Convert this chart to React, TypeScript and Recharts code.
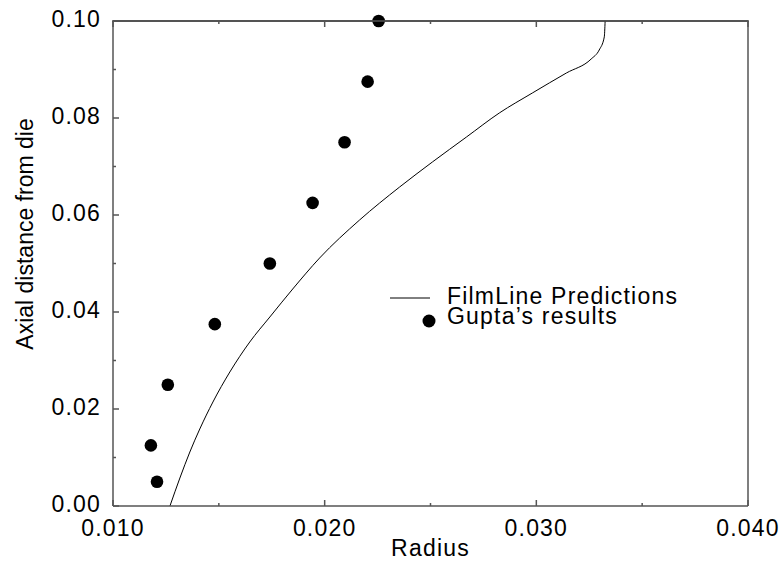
import React from "react";
import { ComposedChart, Line, Scatter, XAxis, YAxis, Legend } from "recharts";

// FilmLine prediction curve (radius, axial distance)
const curveRadius = [
  0.01269, 0.01316, 0.01363, 0.0141, 0.01472, 0.01552, 0.01646, 0.01741,
  0.01849, 0.01976, 0.02165, 0.02354, 0.02509, 0.0267, 0.02825, 0.02981,
  0.03142, 0.03259, 0.03297, 0.03321, 0.03325,
];
const curveAxial = [
  0.0, 0.00577, 0.01113, 0.01588, 0.02144, 0.02763, 0.03381, 0.03897, 0.04474,
  0.05113, 0.05897, 0.06577, 0.07093, 0.07608, 0.08103, 0.08515, 0.08928,
  0.09216, 0.09402, 0.0967, 0.1,
];

// Gupta's results
const guptaRadius = [
  0.01208, 0.01179, 0.01259, 0.01481, 0.01741, 0.01943, 0.02094, 0.02203,
  0.02255,
];
const guptaAxial = [0.005, 0.0125, 0.025, 0.0375, 0.05, 0.0625, 0.075, 0.0875, 0.1];

const xTicks = [0.01, 0.015, 0.02, 0.025, 0.03, 0.035, 0.04];
const yTicks = [0, 0.01, 0.02, 0.03, 0.04, 0.05, 0.06, 0.07, 0.08, 0.09, 0.1];
const X_DOMAIN = [0.01, 0.04];
const Y_DOMAIN = [0, 0.1];

const curve = curveRadius.map((x, i) => ({ x, y: curveAxial[i] }));
const gupta = guptaRadius.map((x, i) => ({ x, y: guptaAxial[i] }));
// top frame edge and its tick marks
const topEdge = X_DOMAIN.map((x) => ({ x, y: Y_DOMAIN[1] }));
const topTicks = xTicks.map((x) => ({ x, y: Y_DOMAIN[1] }));

const FONT = "'Liberation Sans', Arial, Helvetica, sans-serif";
const FS = 23;
const LS = 1.2;
const AXIS = "#555";

const isMajorX = (v: number) => Math.round(v * 1000) % 10 === 0;
const isMajorY = (v: number) => Math.round(v * 100) % 2 === 0;

const BottomTick = (props: any) => {
  const { x, y, payload } = props;
  const major = isMajorX(payload.value);
  return (
    <g>
      <line x1={x} y1={y} x2={x} y2={y - (major ? 6 : 3)} stroke={AXIS} strokeWidth={1.5} />
      {major && (
        <text x={x} y={y + 30} textAnchor="middle" fontSize={FS} fontFamily={FONT} letterSpacing={LS} fill="#000">
          {payload.value.toFixed(3)}
        </text>
      )}
    </g>
  );
};

const LeftTick = (props: any) => {
  const { x, y, payload } = props;
  const major = isMajorY(payload.value);
  return (
    <g>
      <line x1={x} y1={y} x2={x + (major ? 6 : 3)} y2={y} stroke={AXIS} strokeWidth={1.5} />
      {major && (
        <text x={x - 12} y={y + 6} textAnchor="end" fontSize={FS} fontFamily={FONT} letterSpacing={LS} fill="#000">
          {payload.value.toFixed(2)}
        </text>
      )}
    </g>
  );
};

const RightTick = (props: any) => {
  const { x, y, payload } = props;
  const major = isMajorY(payload.value);
  return <line x1={x} y1={y} x2={x - (major ? 6 : 3)} y2={y} stroke={AXIS} strokeWidth={1.5} />;
};

const TopTickShape = (p: any) => {
  const len = isMajorX(p.payload?.x ?? p.x) ? 6 : 3;
  return <line x1={p.cx} y1={p.cy} x2={p.cx} y2={p.cy + len} stroke={AXIS} strokeWidth={1.5} />;
};

// legend box plus the top frame edge of the plot (plot spans x 113..748, top at y 21)
const renderLegend = () => (
  <svg width={783} height={562} style={{ display: "block", pointerEvents: "none" }}>
    <line x1={112} y1={21} x2={749} y2={21} stroke={AXIS} strokeWidth={1.5} />
    <g transform="translate(380 280)">
      <line x1={10} y1={18} x2={50} y2={18} stroke="#000" strokeWidth={1} />
      <text x={67} y={24} fontSize={FS} fontFamily={FONT} letterSpacing={LS} fill="#000">
        FilmLine Predictions
      </text>
      <circle cx={49} cy={41} r={6.5} fill="#000" />
      <text x={67} y={44} fontSize={FS} fontFamily={FONT} letterSpacing={LS} fill="#000">
        Gupta’s results
      </text>
    </g>
  </svg>
);

export default function App() {
  return (
    <div style={{ position: "absolute", left: 0, top: 0, background: "#fff" }}>
      <ComposedChart
        width={783}
        height={562}
        margin={{ top: 21, right: 34, bottom: 0, left: 0 }}
      >
        <XAxis
          xAxisId="bottom"
          type="number"
          dataKey="x"
          domain={X_DOMAIN}
          ticks={xTicks}
          interval={0}
          height={56}
          tickSize={0}
          tickMargin={0}
          tickLine={false}
          stroke={AXIS}
          strokeWidth={1.5}
          tick={<BottomTick />}
          label={{
            value: "Radius",
            position: "insideBottom",
            offset: 6,
            fontSize: FS,
            fontFamily: FONT,
            letterSpacing: LS,
            fill: "#000",
          }}
        />
        <YAxis
          yAxisId="left"
          type="number"
          dataKey="y"
          domain={Y_DOMAIN}
          ticks={yTicks}
          interval={0}
          width={113}
          tickSize={0}
          tickMargin={0}
          tickLine={false}
          stroke={AXIS}
          strokeWidth={1.5}
          tick={<LeftTick />}
          label={{
            content: () => (
              <text
                x={33}
                y={234}
                transform="rotate(-90 33 234)"
                textAnchor="middle"
                fontSize={FS}
                fontFamily={FONT}
                fill="#000"
              >
                Axial distance from die
              </text>
            ),
          }}
        />
        <YAxis
          yAxisId="right"
          orientation="right"
          type="number"
          dataKey="y"
          domain={Y_DOMAIN}
          ticks={yTicks}
          interval={0}
          width={1}
          tickSize={0}
          tickMargin={0}
          tickLine={false}
          stroke={AXIS}
          strokeWidth={1.5}
          tick={<RightTick />}
        />
        <Line
          data={topEdge}
          dataKey="y"
          xAxisId="bottom"
          yAxisId="left"
          type="linear"
          stroke={AXIS}
          strokeWidth={2}
          dot={false}
          activeDot={false}
          legendType="none"
          isAnimationActive={false}
        />
        <Scatter
          data={topTicks}
          dataKey="y"
          xAxisId="bottom"
          yAxisId="left"
          shape={TopTickShape}
          legendType="none"
          isAnimationActive={false}
        />
        <Line
          name="FilmLine Predictions"
          data={curve}
          dataKey="y"
          xAxisId="bottom"
          yAxisId="left"
          type="monotoneX"
          stroke="#000"
          strokeWidth={1}
          dot={false}
          activeDot={false}
          isAnimationActive={false}
        />
        <Scatter
          name="Gupta's results"
          data={gupta}
          dataKey="y"
          xAxisId="bottom"
          yAxisId="left"
          fill="#000"
          shape={(p: any) => <circle cx={p.cx} cy={p.cy} r={6.3} fill="#000" />}
          isAnimationActive={false}
        />
        <Legend
          layout="horizontal"
          align="center"
          verticalAlign="middle"
          content={renderLegend}
          wrapperStyle={{ position: "absolute", left: 0, top: 0, width: 783, height: 562, pointerEvents: "none" }}
        />
      </ComposedChart>
    </div>
  );
}
